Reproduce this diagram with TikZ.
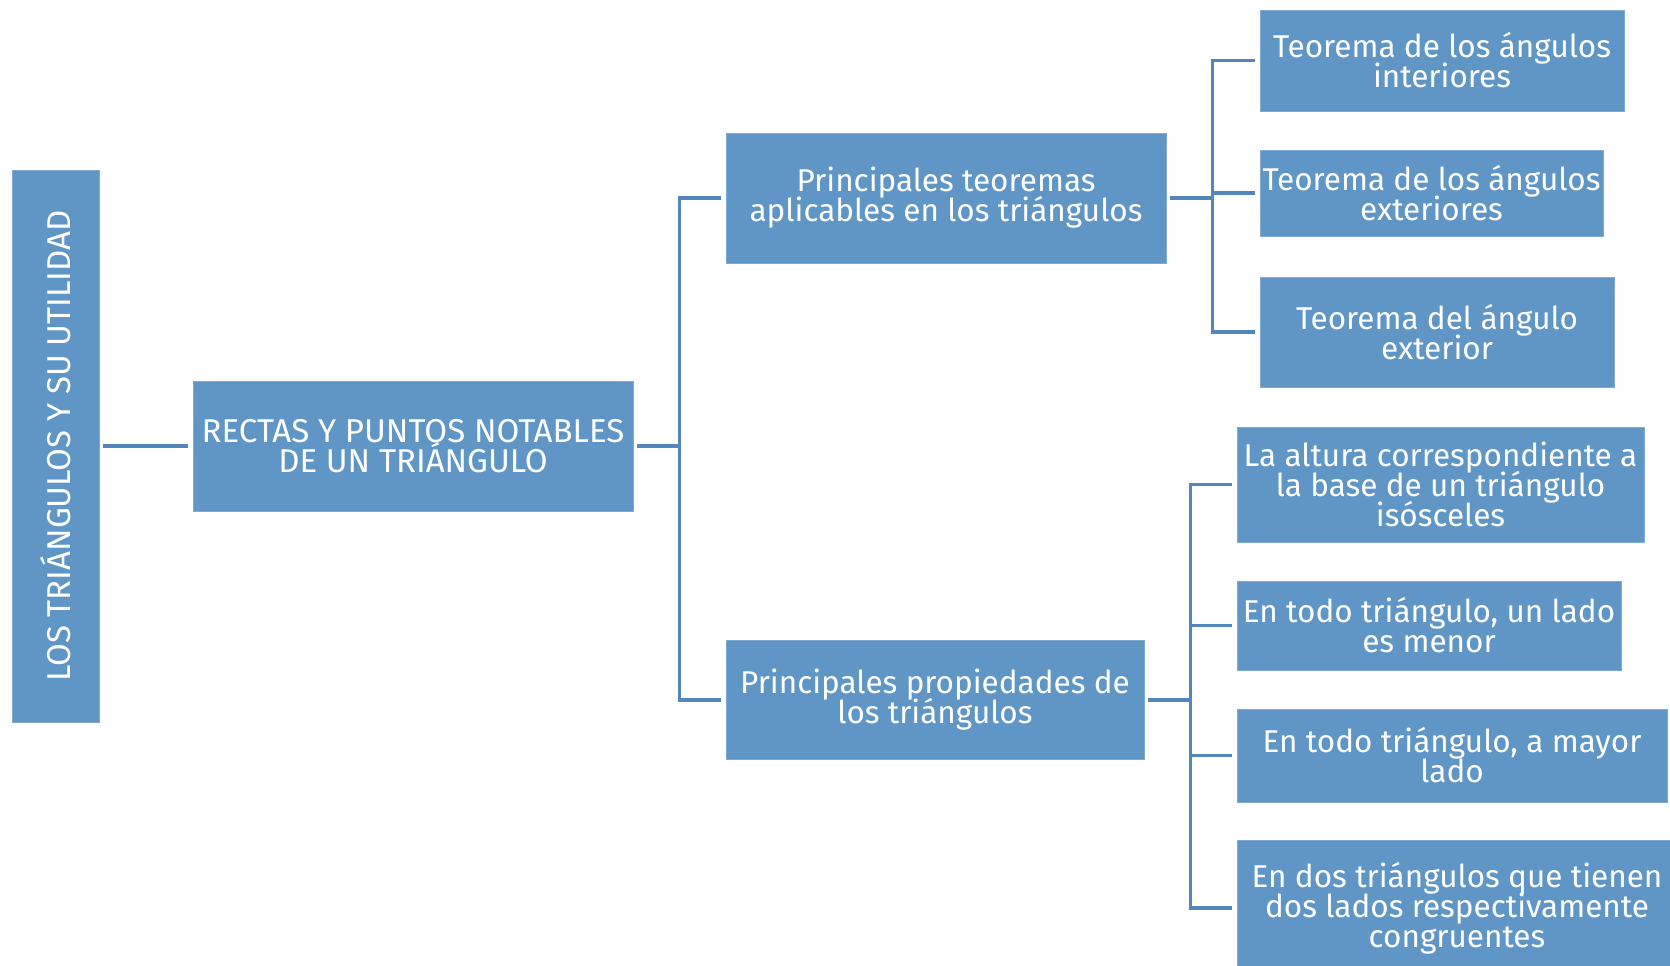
\documentclass[tikz,border=0pt]{standalone}
\usepackage{fontspec}
\setmainfont{Fira Sans}
\definecolor{boxblue}{RGB}{96,150,198}
\definecolor{lineblue}{RGB}{84,134,190}
\newcommand{\boxfont}{\fontsize{31.5}{30}\selectfont\setlength{\lineskiplimit}{-50pt}}
\newcommand{\capsfont}{\fontsize{33}{30}\selectfont\setlength{\lineskiplimit}{-50pt}}
\tikzset{
  ideabox/.style={rectangle, fill=boxblue, draw=boxblue!80!white, line width=0.8pt,
    text=white, align=center, inner sep=0pt, font=\boxfont},
  capsbox/.style={ideabox, font=\capsfont},
  link/.style={draw=lineblue, line width=3.6pt, shorten <=4pt, shorten >=5pt}
}
\begin{document}
\begin{tikzpicture}[x=1pt, y=-1pt]
    \useasboundingbox[fill=white] (0,0) rectangle (1670,966);

    % main column
    \node[capsbox, minimum width=87, minimum height=552] (tema) at (55.5,446)
        {\rotatebox{90}{LOS TRIÁNGULOS Y SU UTILIDAD}};
    \node[capsbox, minimum width=440, minimum height=130] (rectas) at (413,446)
        {RECTAS Y PUNTOS NOTABLES\\DE UN TRIÁNGULO};

    % second level
    \node[ideabox, minimum width=440, minimum height=130] (teoremas) at (946,198)
        {Principales teoremas\\aplicables en los triángulos};
    \node[ideabox, minimum width=418, minimum height=119] (propiedades) at (935,700)
        {Principales propiedades de\\los triángulos};

    % theorems
    \node[ideabox, minimum width=364, minimum height=101] (teoA) at (1442,60.5)
        {Teorema de los ángulos\\interiores};
    \node[ideabox, minimum width=343, minimum height=86] (teoB) at (1431.5,193)
        {Teorema de los ángulos\\exteriores};
    \node[ideabox, minimum width=354, minimum height=110] (teoC) at (1437,332)
        {Teorema del ángulo\\exterior};

    % properties
    \node[ideabox, minimum width=407, minimum height=115] (propA) at (1440.5,484.5)
        {La altura correspondiente a\\la base de un triángulo\\isósceles};
    \node[ideabox, minimum width=384, minimum height=89] (propB) at (1429,625.5)
        {En todo triángulo, un lado\\es menor};
    \node[ideabox, minimum width=430, minimum height=93] (propC) at (1452,755.5)
        {En todo triángulo, a mayor\\lado};
    \node[ideabox, minimum width=440, minimum height=135] (propD) at (1457,908)
        {En dos triángulos que tienen\\dos lados respectivamente\\congruentes};

    % connectors
    \draw[link] (tema.east) -- (rectas.west);
    \draw[link] (rectas.east) -- ++(46,0) |- (teoremas.west);
    \draw[link] (rectas.east) -- ++(46,0) |- (propiedades.west);

    \foreach \t in {teoA,teoB,teoC}
        \draw[link] (teoremas.east) -- ++(46,0) |- (\t.west);
    \foreach \p in {propA,propB,propC,propD}
        \draw[link] (propiedades.east) -- ++(46,0) |- (\p.west);
\end{tikzpicture}
\end{document}
